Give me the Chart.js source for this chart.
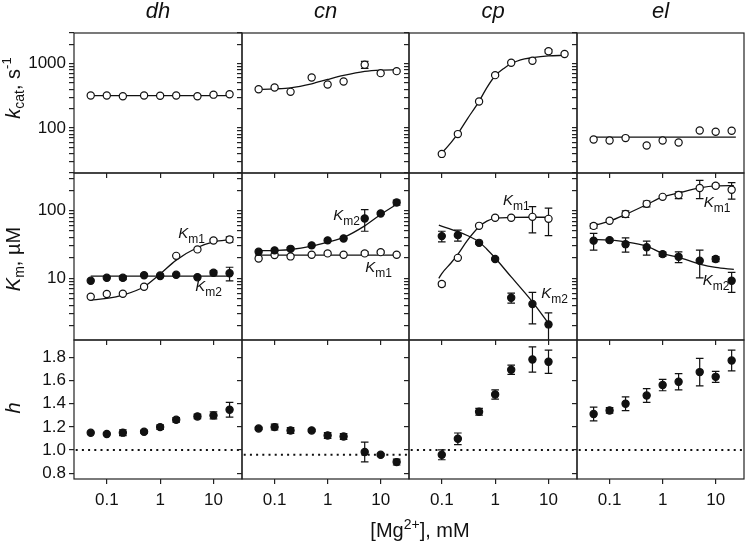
<!DOCTYPE html>
<html><head><meta charset="utf-8">
<script src="https://cdn.jsdelivr.net/npm/chart.js@4.4.1/dist/chart.umd.min.js"></script>
<style>
html,body{margin:0;padding:0;background:#fff;}
#wrap{position:relative;width:745px;height:542px;overflow:hidden;background:#fff;}
#wrap canvas{position:absolute;left:0;top:0;}
</style></head><body><div id="wrap"></div>
<script>
// ---------------- DATA ----------------
const enzymes = ['dh', 'cn', 'cp', 'el'];
const mgAll = [0.05, 0.1, 0.2, 0.5, 1, 2, 5, 10, 20];
const mgCpKcat = [0.1, 0.2, 0.5, 1, 2, 5, 10, 20];
const mgCp = [0.1, 0.2, 0.5, 1, 2, 5, 10];

const mgTicks = [0.1, 1, 10];
const mgTickLabels = [0.1, 1, 10];
const kcatTicks = [20,30,40,50,60,70,80,90,100,200,300,400,500,600,700,800,900,1000,2000,3000];
const kcatTickLabels = [100, 1000];
const kmTicks = [2,3,4,5,6,7,8,9,10,20,30,40,50,60,70,80,90,100,200,300];
const kmTickLabels = [10, 100];
const hTicks = [0.8, 1.0, 1.2, 1.4, 1.6, 1.8];

// kcat (s^-1)
const kcatDh = [320, 320, 312, 320, 318, 320, 312, 330, 335];
const kcatCn = [401, 426, 365, 611, 475, 528, 964, 713, 766];
const kcatCnErr = [0, 0, 0, 0, 0, 0, 120, 0, 0];
const kcatCp = [39.6, 80.5, 258, 664, 1037, 1114, 1557, 1412];
const kcatCpErr = [0, 0, 0, 0, 0, 0, 100, 0];
const kcatEl = [66.4, 64, 69.8, 53.5, 64, 59.6, 91.7, 87.5, 90.8];

const fitKcatDhX = [0.05, 22];
const fitKcatDh = [320, 320];
const fitKcatCnX = [0.045, 0.1, 0.2, 0.5, 1, 2, 5, 10, 22];
const fitKcatCn = [397, 406, 422, 487, 569, 657, 759, 795, 806];
const fitKcatCpX = [0.088, 0.1, 0.15, 0.2, 0.3, 0.5, 0.7, 1, 1.5, 2, 3, 5, 10, 20];
const fitKcatCp = [36.8, 41, 60, 82, 138, 260, 425, 650, 860, 1000, 1150, 1240, 1320, 1348];
const fitKcatElX = [0.045, 24];
const fitKcatEl = [72, 72];

// Km (uM): Km1 open, Km2 filled
const km1Dh = [5.36, 5.87, 5.93, 7.52, 11.0, 21.5, 26.8, 36.3, 37.6];
const km1DhErr = [0, 0, 0, 0, 0, 0, 0, 1.5, 3.4];
const km2Dh = [9.23, 10.2, 10.2, 11.1, 10.8, 11.3, 10.4, 12.1, 11.9];
const km2DhErr = [0, 0, 0.6, 0, 0, 0, 0, 0.8, 2.7];
const fitKm1DhX = [0.05, 0.1, 0.2, 0.5, 1, 2, 5, 10, 22];
const fitKm1Dh = [4.79, 5.07, 5.67, 7.52, 11.6, 18.6, 28.6, 34.7, 37.6];
const fitKm2DhX = [0.05, 22];
const fitKm2Dh = [10.8, 10.8];

const km1Cn = [19.7, 22.1, 21.1, 22.3, 23.4, 22.3, 23.4, 24.4, 22.3];
const km1CnErr = [0, 0, 0, 0, 0, 0, 1.2, 0.8, 0];
const km2Cn = [24.7, 25.9, 27.3, 30.7, 36.4, 38.9, 76.7, 91, 132];
const km2CnErr = [0, 0, 1.2, 0, 0, 0, 27, 3, 11.5];
const fitKm1CnX = [0.043, 23.5];
const fitKm1Cn = [22.1, 22.1];
const fitKm2CnX = [0.045, 0.1, 0.2, 0.5, 1, 2, 5, 10, 22];
const fitKm2Cn = [25.5, 25.9, 26.7, 29.9, 34.3, 40.3, 59.7, 87.9, 130];

const km1Cp = [8.24, 20.1, 59.7, 78.4, 78.4, 81, 75.7];
const km1CpErr = [0.5, 0, 0, 0, 0, 34, 33];
const km2Cp = [42.1, 43.5, 33.5, 19.3, 5.17, 4.18, 2.09];
const km2CpErr = [7.6, 8, 1.5, 0, 0.87, 2.05, 1.0];
const fitKm1CpX = [0.088, 0.1, 0.15, 0.2, 0.3, 0.5, 0.7, 1, 2, 5, 11];
const fitKm1Cp = [10, 11.8, 17, 22.6, 36, 57.7, 70, 76.7, 79.4, 80, 80];
const fitKm2CpX = [0.088, 0.2, 0.3, 0.5, 0.7, 1, 2, 5, 11];
const fitKm2Cp = [61, 49, 43, 34.5, 27, 20, 10.5, 4.5, 1.95];

const km1El = [59.6, 70.8, 89.3, 126, 160, 170, 216, 233, 204];
const km1ElErr = [5, 0, 10, 12, 0, 19, 65, 13, 56];
const km2El = [36.1, 36.7, 32, 28.8, 22.8, 20.8, 18.2, 19.3, 9.23];
const km2ElErr = [10, 1.5, 7.6, 6.7, 1.7, 3.75, 8, 1.6, 3];
const fitKmElX = [0.045, 0.1, 0.2, 0.5, 1, 2, 5, 10, 22];
const fitKm1El = [59, 70, 87.9, 123, 160, 183, 217, 232, 234];
const fitKm2El = [37.6, 36.7, 34.7, 29.9, 23.4, 20.4, 16.3, 14.5, 13.6];

// Hill coefficient h
const hDh = [1.149, 1.138, 1.15, 1.158, 1.198, 1.261, 1.29, 1.299, 1.348];
const hDhErr = [0, 0, 0.025, 0.012, 0.02, 0.02, 0.02, 0.03, 0.063];
const hCn = [1.186, 1.198, 1.169, 1.169, 1.126, 1.117, 0.983, 0.959, 0.896];
const hCnErr = [0.01, 0.025, 0.025, 0.01, 0.025, 0.025, 0.086, 0.01, 0.025];
const hCp = [0.959, 1.097, 1.33, 1.48, 1.693, 1.782, 1.762];
const hCpErr = [0.043, 0.05, 0.029, 0.04, 0.04, 0.109, 0.1];
const hEl = [1.311, 1.342, 1.4, 1.471, 1.561, 1.589, 1.673, 1.632, 1.773];
const hElErr = [0.059, 0.024, 0.059, 0.059, 0.049, 0.07, 0.119, 0.047, 0.09];
const refLineX = [0.02, 40];
const hRefDh = [1.0, 1.0];
const hRefCn = [0.96, 0.96];
const hRefCp = [1.0, 1.0];
const hRefEl = [1.0, 1.0];

// Km label anchors (data units)
const kmLabelAnchors = {
  dh: [{t: 'm1', x: 2.19, y: 39.3}, {t: 'm2', x: 4.57, y: 6.5}],
  cn: [{t: 'm2', x: 1.28, y: 72.4}, {t: 'm1', x: 5.14, y: 12.4}],
  cp: [{t: 'm1', x: 1.40, y: 120}, {t: 'm2', x: 7.28, y: 5.12}],
  el: [{t: 'm1', x: 5.94, y: 113}, {t: 'm2', x: 5.69, y: 7.96}]
};

// ---------------- LAYOUT / STYLE ----------------
const W = 745, H = 542;
const colEdges = [74, 242, 409, 577, 744];
const rowEdges = [33, 173, 340, 479];
const Y_W = 60, X_H = 40;
const X_MIN = 0.0243, X_MAX = 34.2;
const INK = '#111';
const FONT = "'Liberation Sans', Arial, Helvetica, sans-serif";
Chart.defaults.font.family = FONT;
Chart.defaults.color = INK;

function fontStr(s) { return (s.italic ? 'italic ' : '') + s.size + 'px ' + FONT; }
function drawRich(ctx, it) {
  ctx.save();
  ctx.translate(it.x, it.y);
  if (it.rot) ctx.rotate(it.rot);
  ctx.textAlign = 'left'; ctx.textBaseline = 'alphabetic'; ctx.fillStyle = INK;
  let total = 0; const ws = [];
  it.segs.forEach(s => { ctx.font = fontStr(s); const w = ctx.measureText(s.t).width; ws.push(w); total += w; });
  let x = it.align === 'center' ? -total / 2 : 0;
  it.segs.forEach((s, i) => { ctx.font = fontStr(s); ctx.fillText(s.t, x, s.dy || 0); x += ws[i]; });
  ctx.restore();
}

const framePlugin = {
  id: 'frame',
  beforeDatasetsDraw(chart) {
    const a = chart.chartArea, ctx = chart.ctx;
    ctx.save(); ctx.strokeStyle = '#222'; ctx.lineWidth = 1.2;
    ctx.strokeRect(a.left, a.top, a.right - a.left, a.bottom - a.top);
    ctx.restore();
  }
};
const errPlugin = {
  id: 'errbars',
  beforeDatasetsDraw(chart) {
    const a = chart.chartArea, ctx = chart.ctx;
    const xs = chart.scales.x, ys = chart.scales.y;
    ctx.save();
    ctx.beginPath(); ctx.rect(a.left, a.top, a.right - a.left, a.bottom - a.top); ctx.clip();
    ctx.strokeStyle = INK; ctx.lineWidth = 1.2;
    chart.data.datasets.forEach(ds => {
      if (!ds.errors) return;
      ds.data.forEach((p, i) => {
        const e = ds.errors[i];
        if (!e) return;
        const px = xs.getPixelForValue(p.x);
        const hi = ys.getPixelForValue(p.y + e);
        const loV = p.y - e;
        const lo = loV > 0 ? ys.getPixelForValue(loV) : a.bottom + 10;
        ctx.beginPath();
        ctx.moveTo(px, hi); ctx.lineTo(px, lo);
        ctx.moveTo(px - 3.8, hi); ctx.lineTo(px + 3.8, hi);
        ctx.moveTo(px - 3.8, lo); ctx.lineTo(px + 3.8, lo);
        ctx.stroke();
      });
    });
    ctx.restore();
  }
};
Chart.register(framePlugin, errPlugin);

const wrap = document.getElementById('wrap');
const pts = (xs, ys) => xs.map((x, i) => ({x: x, y: ys[i]}));

function makePanel(row, col, spec) {
  const canvas = document.createElement('canvas');
  canvas.width = W; canvas.height = H;
  canvas.style.width = W + 'px'; canvas.style.height = H + 'px';
  wrap.appendChild(canvas);
  const L = colEdges[col], R = colEdges[col + 1], T = rowEdges[row], B = rowEdges[row + 1];
  const datasets = [];
  (spec.filled || []).forEach(s => datasets.push({
    data: pts(s.x, s.y), errors: s.err, showLine: false, pointRadius: 3.6, pointHoverRadius: 3.6,
    pointBorderWidth: 1.2, pointBackgroundColor: INK, pointBorderColor: INK
  }));
  (spec.open || []).forEach(s => datasets.push({
    data: pts(s.x, s.y), errors: s.err, showLine: false, pointRadius: 3.6, pointHoverRadius: 3.6,
    pointBorderWidth: 1.2, pointBackgroundColor: '#fff', pointBorderColor: INK
  }));
  (spec.fits || []).forEach(s => datasets.push({
    data: pts(s.x, s.y), showLine: true, pointRadius: 0, borderColor: INK, borderWidth: 1.3,
    cubicInterpolationMode: 'monotone', fill: false
  }));
  (spec.refs || []).forEach(s => datasets.push({
    data: pts(s.x, s.y), showLine: true, pointRadius: 0, borderColor: INK, borderWidth: 2,
    borderDash: [2, 4.2], fill: false
  }));
  const yc = spec.yAxis;
  const labelPlugin = {
    id: 'panelLabels',
    afterDatasetsDraw(chart) {
      (spec.labels || []).forEach(lb => {
        const x = chart.scales.x.getPixelForValue(lb.x);
        const y = chart.scales.y.getPixelForValue(lb.y);
        drawRich(chart.ctx, {x: x, y: y, segs: [
          {t: 'K', size: 15, italic: true}, {t: lb.t, size: 12, dy: 5}]});
      });
      if (spec.global) spec.global(chart.ctx);
    }
  };
  new Chart(canvas, {
    type: 'scatter',
    data: {datasets: datasets},
    options: {
      responsive: false, animation: false, devicePixelRatio: 1, events: [],
      layout: {autoPadding: false, padding: {left: L - Y_W, right: W - R, top: T, bottom: H - B - X_H}},
      plugins: {legend: {display: false}, tooltip: {enabled: false}, title: {display: false}},
      scales: {
        x: {
          type: 'logarithmic', position: 'bottom', min: X_MIN, max: X_MAX,
          afterBuildTicks: s => { s.ticks = mgTicks.map(v => ({value: v})); },
          afterFit: s => { s.height = X_H; },
          ticks: {display: row === 2, autoSkip: false, maxRotation: 0, minRotation: 0, padding: 6,
                  font: {size: 17}, color: INK,
                  callback: v => mgTickLabels.includes(v) ? String(v) : ''},
          grid: {drawOnChartArea: false, drawTicks: true, tickLength: 5, color: '#222', lineWidth: 1.2},
          border: {display: false}
        },
        y: {
          type: yc.type, position: 'left', min: yc.min, max: yc.max,
          afterBuildTicks: s => { s.ticks = yc.ticks.map(v => ({value: v})); },
          afterFit: s => { s.width = Y_W; },
          ticks: {display: col === 0, autoSkip: false, padding: 3, font: {size: 17}, color: INK,
                  callback: yc.label},
          grid: {drawOnChartArea: false, drawTicks: true, tickLength: 5, color: '#222', lineWidth: 1.2},
          border: {display: false}
        }
      }
    },
    plugins: [labelPlugin]
  });
}

const kcatAxis = {type: 'logarithmic', min: 20, max: 3000, ticks: kcatTicks,
  label: v => kcatTickLabels.includes(v) ? String(v) : ''};
const kmAxis = {type: 'logarithmic', min: 1.23, max: 360, ticks: kmTicks,
  label: v => kmTickLabels.includes(v) ? String(v) : ''};
const hAxis = {type: 'linear', min: 0.75, max: 1.95, ticks: hTicks,
  label: v => Number(v).toFixed(1)};

function globalTexts(ctx) {
  enzymes.forEach((e, i) => drawRich(ctx, {x: (colEdges[i] + colEdges[i + 1]) / 2, y: 18, align: 'center',
    segs: [{t: e, size: 22, italic: true}]}));
  const r = -Math.PI / 2;
  drawRich(ctx, {x: 20, y: 88, rot: r, align: 'center', segs: [
    {t: 'k', size: 20, italic: true}, {t: 'cat', size: 14, dy: 4}, {t: ', s', size: 20}, {t: '-1', size: 13, dy: -9}]});
  drawRich(ctx, {x: 20, y: 259, rot: r, align: 'center', segs: [
    {t: 'K', size: 20, italic: true}, {t: 'm', size: 14, dy: 4}, {t: ', \u00B5M', size: 20}]});
  drawRich(ctx, {x: 20, y: 408, rot: r, align: 'center', segs: [{t: 'h', size: 20, italic: true}]});
  drawRich(ctx, {x: 420, y: 537, align: 'center', segs: [
    {t: '[Mg', size: 20}, {t: '2+', size: 14, dy: -8}, {t: '], mM', size: 20}]});
}

// Row 1: kcat
makePanel(0, 0, {yAxis: kcatAxis, open: [{x: mgAll, y: kcatDh}], fits: [{x: fitKcatDhX, y: fitKcatDh}], global: globalTexts});
makePanel(0, 1, {yAxis: kcatAxis, open: [{x: mgAll, y: kcatCn, err: kcatCnErr}], fits: [{x: fitKcatCnX, y: fitKcatCn}]});
makePanel(0, 2, {yAxis: kcatAxis, open: [{x: mgCpKcat, y: kcatCp, err: kcatCpErr}], fits: [{x: fitKcatCpX, y: fitKcatCp}]});
makePanel(0, 3, {yAxis: kcatAxis, open: [{x: mgAll, y: kcatEl}], fits: [{x: fitKcatElX, y: fitKcatEl}]});
// Row 2: Km
makePanel(1, 0, {yAxis: kmAxis, filled: [{x: mgAll, y: km2Dh, err: km2DhErr}], open: [{x: mgAll, y: km1Dh, err: km1DhErr}],
  fits: [{x: fitKm1DhX, y: fitKm1Dh}, {x: fitKm2DhX, y: fitKm2Dh}], labels: kmLabelAnchors.dh});
makePanel(1, 1, {yAxis: kmAxis, filled: [{x: mgAll, y: km2Cn, err: km2CnErr}], open: [{x: mgAll, y: km1Cn, err: km1CnErr}],
  fits: [{x: fitKm1CnX, y: fitKm1Cn}, {x: fitKm2CnX, y: fitKm2Cn}], labels: kmLabelAnchors.cn});
makePanel(1, 2, {yAxis: kmAxis, filled: [{x: mgCp, y: km2Cp, err: km2CpErr}], open: [{x: mgCp, y: km1Cp, err: km1CpErr}],
  fits: [{x: fitKm1CpX, y: fitKm1Cp}, {x: fitKm2CpX, y: fitKm2Cp}], labels: kmLabelAnchors.cp});
makePanel(1, 3, {yAxis: kmAxis, filled: [{x: mgAll, y: km2El, err: km2ElErr}], open: [{x: mgAll, y: km1El, err: km1ElErr}],
  fits: [{x: fitKmElX, y: fitKm1El}, {x: fitKmElX, y: fitKm2El}], labels: kmLabelAnchors.el});
// Row 3: h
makePanel(2, 0, {yAxis: hAxis, filled: [{x: mgAll, y: hDh, err: hDhErr}], refs: [{x: refLineX, y: hRefDh}]});
makePanel(2, 1, {yAxis: hAxis, filled: [{x: mgAll, y: hCn, err: hCnErr}], refs: [{x: refLineX, y: hRefCn}]});
makePanel(2, 2, {yAxis: hAxis, filled: [{x: mgCp, y: hCp, err: hCpErr}], refs: [{x: refLineX, y: hRefCp}]});
makePanel(2, 3, {yAxis: hAxis, filled: [{x: mgAll, y: hEl, err: hElErr}], refs: [{x: refLineX, y: hRefEl}]});
</script>
</body></html>
